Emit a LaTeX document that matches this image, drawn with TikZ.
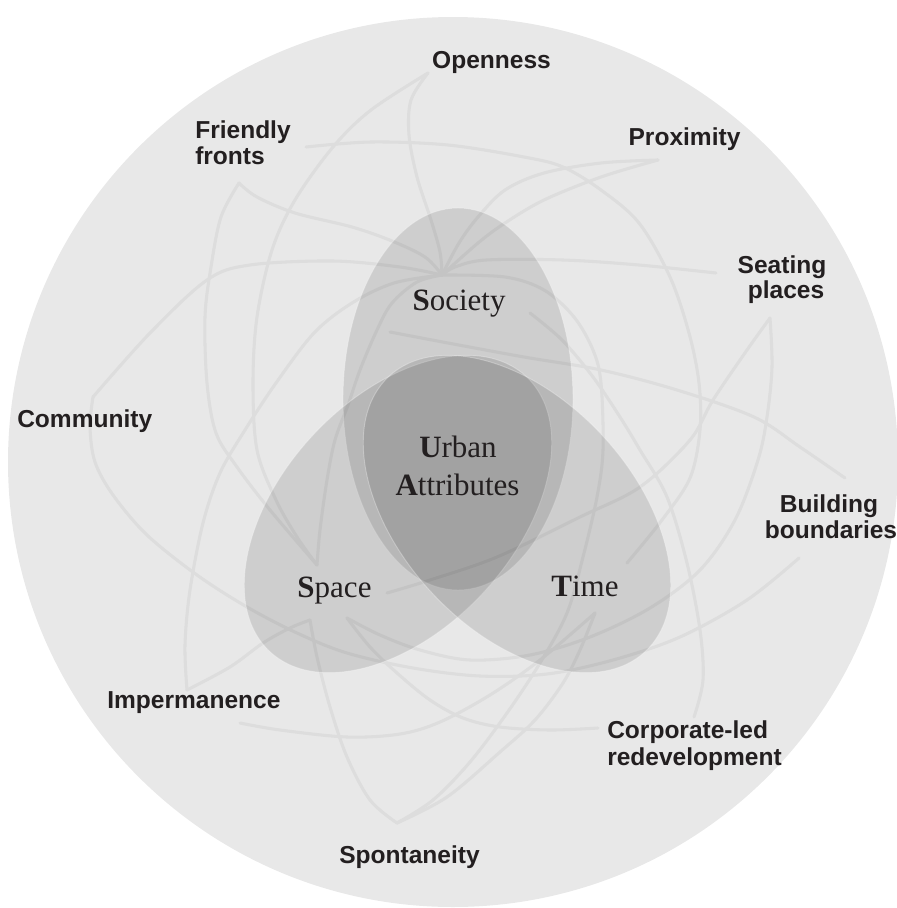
\documentclass[tikz,border=0pt]{standalone}
\usepackage{fontspec}
\setmainfont{Liberation Serif}
\newfontfamily\lsans{Liberation Sans}
\definecolor{bgc}{RGB}{232,232,232}
\definecolor{linec}{RGB}{221,221,221}
\definecolor{txt}{RGB}{35,31,32}
\begin{document}
\begin{tikzpicture}[x=0.75pt,y=-0.75pt,
  outerlbl/.style={font=\lsans\bfseries\fontsize{18.4}{22}\selectfont, text=txt, inner sep=0pt},
  vennlbl/.style={font=\fontsize{23.25}{28}\selectfont, text=txt, inner sep=0pt},
  web/.style={draw=linec, line width=2.3pt, line cap=round, line join=round},
  lobe/.style={fill=black, fill opacity=0.108, draw=white, draw opacity=0.3, line width=0.7pt}]
\useasboundingbox (0,0) rectangle (897,908);
\fill[bgc] (453,462) circle [radius=445];

% hubs and end points
\coordinate (S1) at (442,275);
\coordinate (SpU) at (317,565);
\coordinate (SpL) at (310,620);
\coordinate (SpR) at (347,618);
\coordinate (TU) at (627,563);
\coordinate (TL) at (595,613);
\coordinate (Op) at (428,73);
\coordinate (Fr) at (239,183);
\coordinate (Pr) at (658,160);
\coordinate (Se) at (770,318);
\coordinate (Co) at (93,397);
\coordinate (Im) at (187,690);
\coordinate (Sp) at (397,823);
\coordinate (Cl) at (694,717);
\coordinate (FrE) at (306,147);
\coordinate (SeE) at (716,273);
\coordinate (BuA) at (845,478);
\coordinate (BuB) at (799,558);
\coordinate (ImE) at (240,723);
\coordinate (XA) at (530,313);
\coordinate (XB) at (390,332);
\coordinate (XC) at (387,593);
\coordinate (ClE) at (598,728);

% web of curves
\draw[web] plot[smooth, tension=0.55] coordinates {(Op) (411,100) (409,135) (417,177) (431,220) (440,252) (S1)};
\draw[web] plot[smooth, tension=0.55] coordinates {(Op) (371,110) (333,147) (295,200) (272,250) (257,317) (253,383) (257,450) (276,500) (297,537) (SpU)};
\draw[web] plot[smooth, tension=0.55] coordinates {(Fr) (257,197) (295,213) (352,227) (392,241) (425,257) (S1)};
\draw[web] plot[smooth, tension=0.55] coordinates {(Fr) (221,217) (211,267) (205,317) (207,383) (216,433) (237,467) (270,510) (SpU)};
\draw[web] plot[smooth, tension=0.55] coordinates {(FrE) (371,142) (448,145) (524,157) (563,167) (601,190) (639,223) (670,277) (689,333) (699,383) (700,430) (690,478) (662,520) (TU)};
\draw[web] plot[smooth, tension=0.55] coordinates {(Pr) (601,163) (544,173) (505,190) (478,217) (459,243) (S1)};
\draw[web] plot[smooth, tension=0.55] coordinates {(Pr) (601,177) (544,200) (505,223) (478,243) (S1)};
\draw[web] plot[smooth, tension=0.55] coordinates {(SeE) (639,265) (563,260) (486,260) (455,267) (S1)};
\draw[web] plot[smooth, tension=0.55] coordinates {(S1) (505,277) (544,290) (574,317) (593,350) (601,383) (603,450) (597,497) (583,557) (567,613) (540,663) (507,713) (470,762) (433,800) (Sp)};
\draw[web] plot[smooth, tension=0.55] coordinates {(XA) (562,340) (593,377) (620,417) (640,450) (667,497) (687,563) (700,630) (703,680) (Cl)};
\draw[web] plot[smooth, tension=0.55] coordinates {(Se) (747,350) (713,400) (690,440) (640,487) (580,517) (497,557) (430,580) (XC)};
\draw[web] plot[smooth, tension=0.55] coordinates {(Se) (772,367) (767,417) (758,460) (735,520) (700,570) (650,608) (590,637) (530,655) (470,660) (420,650) (380,635) (SpR)};
\draw[web] plot[smooth, tension=0.55] coordinates {(XB) (448,343) (524,357) (601,370) (677,390) (754,417) (800,447) (BuA)};
\draw[web] plot[smooth, tension=0.55] coordinates {(Co) (150,333) (207,280) (250,265) (333,261) (400,267) (S1)};
\draw[web] plot[smooth, tension=0.55] coordinates {(Co) (90,427) (95,462) (113,495) (147,535) (197,575) (247,607) (297,633) (347,653) (413,668) (480,676) (547,674) (613,660) (680,637) (747,600) (BuB)};
\draw[web] plot[smooth, tension=0.55] coordinates {(S1) (394,283) (352,303) (314,333) (276,383) (245,430) (220,473) (203,523) (190,590) (185,645) (Im)};
\draw[web] plot[smooth, tension=0.55] coordinates {(Im) (230,667) (263,643) (290,628) (SpL)};
\draw[web] plot[smooth, tension=0.55] coordinates {(SpL) (317,657) (330,707) (347,757) (370,800) (Sp)};
\draw[web] plot[smooth, tension=0.55] coordinates {(TL) (580,650) (563,683) (535,720) (500,752) (447,797) (Sp)};
\draw[web] plot[smooth, tension=0.55] coordinates {(ImE) (280,730) (347,737) (400,734) (440,722) (490,695) (540,660) (TL)};
\draw[web] plot[smooth, tension=0.55] coordinates {(SpR) (370,647) (397,673) (430,700) (463,718) (500,727) (550,730) (ClE)};
\draw[web] plot[smooth, tension=0.55] coordinates {(S1) (417,282) (392,303) (377,330) (360,370) (348,405) (335,440) (327,480) (320,530) (SpU)};

% Venn lobes
\path[lobe] (458,399) ellipse [x radius=115, y radius=191];
\path[lobe, rotate around={47:(398,514)}] (398,514) ellipse [x radius=188, y radius=116];
\path[lobe, rotate around={-47:(517,514)}] (517,514) ellipse [x radius=188, y radius=116];

% Venn labels
\node[vennlbl, anchor=base] (soc) at (459,310) {\textbf{S}ociety};
\node[vennlbl, anchor=base] (spa) at (334.5,597) {\textbf{S}pace};
\node[vennlbl, anchor=base] (tim) at (585,596) {\textbf{T}ime};
\node[vennlbl, anchor=base] (urb) at (458,457) {\textbf{U}rban};
\node[vennlbl, anchor=base] (att) at (457.5,495) {\textbf{A}ttributes};

% outer labels
\node[outerlbl, anchor=base] (open) at (491.5,68) {Openness};
\node[outerlbl, anchor=base west] (fri1) at (195,138) {Friendly};
\node[outerlbl, anchor=base west] (fri2) at (195,164) {fronts};
\node[outerlbl, anchor=base] (prox) at (684.5,145) {Proximity};
\node[outerlbl, anchor=base] (sea1) at (782,273) {Seating};
\node[outerlbl, anchor=base] (sea2) at (786,298) {places};
\node[outerlbl, anchor=base west] (comm) at (17,427) {Community};
\node[outerlbl, anchor=base] (bui1) at (829,512) {Building};
\node[outerlbl, anchor=base] (bui2) at (831,538) {boundaries};
\node[outerlbl, anchor=base west] (imp) at (107,708) {Impermanence};
\node[outerlbl, anchor=base west] (cor1) at (607,738) {Corporate-led};
\node[outerlbl, anchor=base west] (cor2) at (607,765) {redevelopment};
\node[outerlbl, anchor=base west] (spon) at (339,863) {Spontaneity};
\end{tikzpicture}
\end{document}
